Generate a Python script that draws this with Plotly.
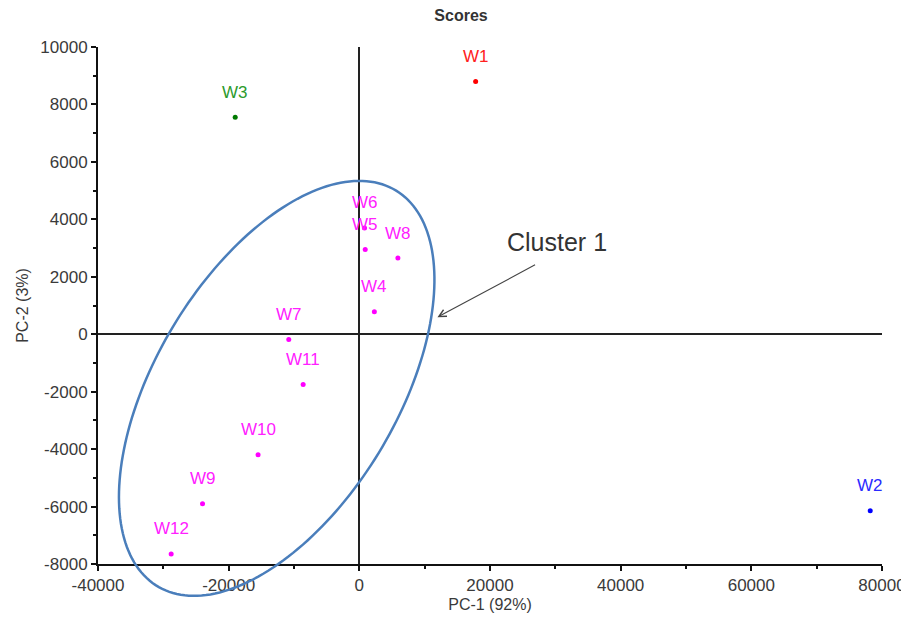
import numpy as np
import plotly.graph_objects as go

# ---- data ----
names = ["W1", "W2", "W3", "W4", "W5", "W6", "W7", "W8", "W9", "W10", "W11", "W12"]
pc1 = [17800, 78200, -19000, 2300, 900, 800, -10800, 5900, -24000, -15500, -8600, -28800]
pc2 = [8800, -6150, 7550, 780, 2950, 3700, -180, 2650, -5900, -4200, -1750, -7650]
groups = ["red", "blue", "green"] + ["cluster"] * 9

x_ticks = [-40000, -20000, 0, 20000, 40000, 60000, 80000]
y_ticks = [-8000, -6000, -4000, -2000, 0, 2000, 4000, 6000, 8000, 10000]
x_range = [-40000, 80000]
y_range = [-8000, 10000]

# ellipse (cluster 1) in data units: centre, half-width, half-height, x-offset of top point
ell_cx, ell_cy = -12650, -1885
ell_hw, ell_hh, ell_xtop = 24145, 7224, 12647

cluster_label = "Cluster 1"
cluster_text_pos = (30200, 3210)
arrow_tip = (11960, 593)
arrow_tail = (27130, 2443)

marker_colors = {"red": "#ff0000", "blue": "#0000ff", "green": "#007a00", "cluster": "#ff00ff"}
label_colors = {"red": "#ff2020", "blue": "#2a2aff", "green": "#2c9a2c", "cluster": "#ff20ff"}

FONT = "Liberation Sans, Arial, sans-serif"
TXT = "#3a3a3a"

# the page body adds an 8px margin, so the figure is sized to fit inside the window
W, H = 901, 615

fig = go.Figure()
fig.add_trace(go.Scatter(
    x=pc1, y=pc2, mode="markers",
    marker=dict(size=5, color=[marker_colors[g] for g in groups]),
    cliponaxis=False, showlegend=False, hoverinfo="text", text=names,
))

annotations = []
for n, xv, yv, g in zip(names, pc1, pc2, groups):
    annotations.append(dict(x=xv, y=yv, xref="x", yref="y", text=n, showarrow=False,
                            yshift=25, font=dict(family=FONT, size=17, color=label_colors[g])))

annotations.append(dict(x=cluster_text_pos[0], y=cluster_text_pos[1], xref="x", yref="y",
                        text=cluster_label, showarrow=False,
                        font=dict(family=FONT, size=25, color="#333333")))
annotations.append(dict(x=arrow_tip[0], y=arrow_tip[1], xref="x", yref="y",
                        ax=arrow_tail[0], ay=arrow_tail[1], axref="x", ayref="y",
                        text="", showarrow=True, arrowhead=5, arrowsize=1.3,
                        arrowwidth=1.1, arrowcolor="#444444"))

# ellipse path, converted to paper coords so it is not clipped by the axes
t = np.linspace(0, 2 * np.pi, 200)
ex = ell_cx + ell_xtop * np.sin(t) + np.sqrt(ell_hw**2 - ell_xtop**2) * np.cos(t)
ey = ell_cy + ell_hh * np.sin(t)
px = (ex - x_range[0]) / (x_range[1] - x_range[0])
py = (ey - y_range[0]) / (y_range[1] - y_range[0])
path = "M " + " L ".join(f"{a:.5f},{b:.5f}" for a, b in zip(px, py)) + " Z"

fig.update_layout(
    width=W, height=H,
    margin=dict(l=90, r=27, t=39, b=59),
    paper_bgcolor="white", plot_bgcolor="white",
    font=dict(family=FONT, color=TXT, size=17),
    title=dict(text="<b>Scores</b>", x=453 / W, xref="container", xanchor="center",
               y=1 - 7 / H, yref="container", yanchor="middle",
               font=dict(family=FONT, size=16, color="#333333")),
    annotations=annotations,
    shapes=[dict(type="path", path=path, xref="paper", yref="paper",
                 line=dict(color="#4a7ebb", width=2.5), fillcolor="rgba(0,0,0,0)")],
    xaxis=dict(range=x_range, tickvals=x_ticks, ticktext=[str(v) for v in x_ticks],
               automargin=False,
               showgrid=False, zeroline=True, zerolinecolor="#222222", zerolinewidth=1.6,
               showline=True, linecolor="#111111", linewidth=2,
               ticks="outside", ticklen=5, tickwidth=1.5, tickcolor="#111111",
               minor=dict(dtick=10000, ticks="outside", ticklen=3, tickcolor="#111111", showgrid=False),
               tickfont=dict(family=FONT, size=17, color=TXT),
               title=dict(text="PC-1 (92%)", standoff=4, font=dict(family=FONT, size=16, color=TXT))),
    yaxis=dict(range=y_range, tickvals=y_ticks, ticktext=[str(v) for v in y_ticks],
               automargin=False,
               showgrid=False, zeroline=True, zerolinecolor="#222222", zerolinewidth=1.6,
               showline=True, linecolor="#111111", linewidth=2,
               ticks="outside", ticklen=5, tickwidth=1.5, tickcolor="#111111",
               minor=dict(dtick=1000, ticks="outside", ticklen=3, tickcolor="#111111", showgrid=False),
               tickfont=dict(family=FONT, size=17, color=TXT),
               title=dict(text="PC-2 (3%)", standoff=8, font=dict(family=FONT, size=16, color=TXT))),
)

fig.write_html("out.html")
